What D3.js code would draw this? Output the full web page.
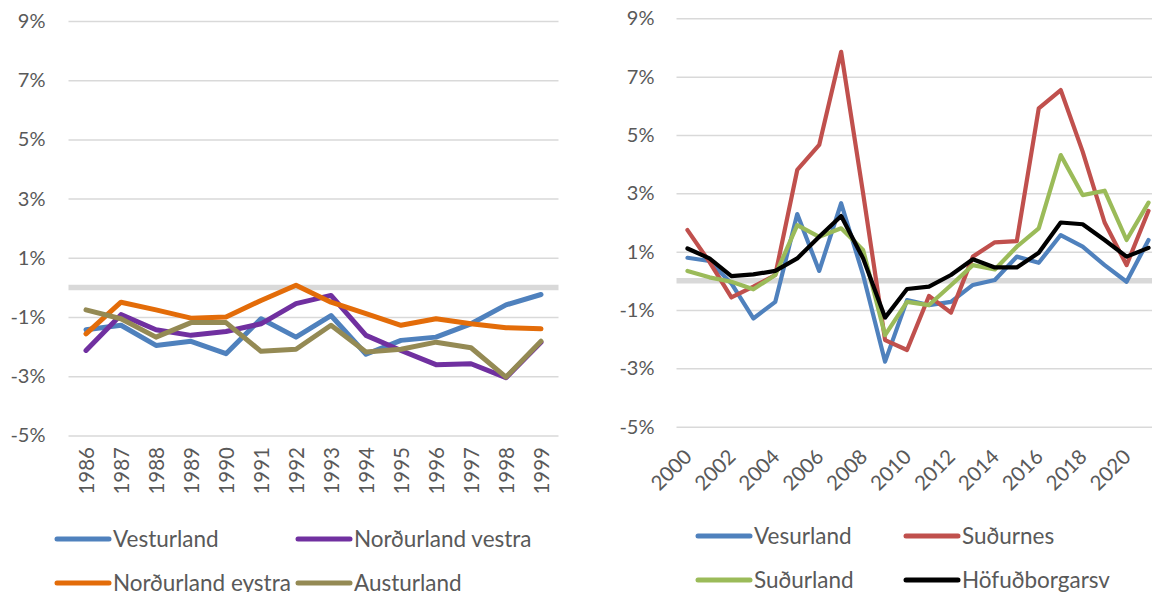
<!DOCTYPE html>
<html>
<head>
<meta charset="utf-8">
<script src="https://cdn.jsdelivr.net/npm/d3@7/dist/d3.min.js"></script>
<style>
  body { margin: 0; background: #fff; }
  svg text { font-family: Lato, "Open Sans", sans-serif; fill: #595959; }
</style>
</head>
<body>
<svg id="chart" width="1152" height="592"></svg>
<script>
// left panel: 1986-1999
const yearsLeft = ["1986","1987","1988","1989","1990","1991","1992","1993","1994","1995","1996","1997","1998","1999"];
const vesturland       = [-1.43,-1.28,-1.96,-1.82,-2.24,-1.06,-1.68,-0.95,-2.26,-1.79,-1.68,-1.23,-0.59,-0.24];
const nordurlandVestra = [-2.13,-0.92,-1.43,-1.62,-1.49,-1.23,-0.55,-0.27,-1.62,-2.13,-2.61,-2.58,-3.05,-1.85];
const nordurlandEystra = [-1.57,-0.50,-0.76,-1.04,-1.00,-0.44,0.07,-0.50,-0.89,-1.28,-1.06,-1.23,-1.36,-1.40];
const austurland       = [-0.76,-1.06,-1.68,-1.19,-1.19,-2.16,-2.09,-1.28,-2.18,-2.09,-1.85,-2.04,-3.03,-1.82];

// right panel: 2000-2021
const yearsRight = ["2000","2001","2002","2003","2004","2005","2006","2007","2008","2009","2010",
                    "2011","2012","2013","2014","2015","2016","2017","2018","2019","2020","2021"];
const rightTickLabels = ["2000","2002","2004","2006","2008","2010","2012","2014","2016","2018","2020"];
const vesurland     = [0.79,0.68,-0.09,-1.29,-0.72,2.29,0.34,2.66,0.20,-2.77,-0.66,-0.83,-0.72,-0.14,0.03,0.83,0.62,1.57,1.17,0.54,-0.03,1.40];
const sudurnes      = [1.74,0.65,-0.57,-0.20,0.20,3.80,4.66,7.85,3.00,-2.03,-2.37,-0.52,-1.09,0.83,1.32,1.36,5.91,6.54,4.43,2.00,0.54,2.40];
const sudurland     = [0.34,0.12,-0.03,-0.29,0.20,1.91,1.51,1.80,1.06,-1.86,-0.72,-0.83,-0.15,0.54,0.39,1.17,1.80,4.31,2.94,3.09,1.40,2.68];
const hofudborgarsv = [1.11,0.77,0.16,0.22,0.34,0.77,1.51,2.22,0.77,-1.26,-0.28,-0.20,0.20,0.74,0.46,0.46,0.96,2.00,1.94,1.40,0.83,1.13];

const yTicks = [-5,-3,-1,1,3,5,7,9];

const svg = d3.select("#chart");

function drawPanel(cfg) {
  const x = d3.scalePoint().domain(cfg.years).range([cfg.x0, cfg.x1]).padding(0.5);
  const y = d3.scaleLinear().domain([-5, 9]).range([cfg.yBottom, cfg.yTop]);
  const g = svg.append("g");

  // gridlines + y labels
  g.append("g")
    .attr("transform", `translate(${cfg.x0},0)`)
    .call(d3.axisLeft(y).tickValues(yTicks).tickSize(-(cfg.x1 - cfg.x0))
      .tickPadding(cfg.yPad).tickFormat(d => d + "%"))
    .call(a => a.select(".domain").remove())
    .call(a => a.selectAll("line").attr("stroke", "#d9d9d9").attr("stroke-width", 1.5))
    .call(a => a.selectAll("text").attr("font-size", 20));

  // zero line
  g.append("line")
    .attr("x1", cfg.x0).attr("x2", cfg.x1)
    .attr("y1", y(0)).attr("y2", y(0))
    .attr("stroke", "#d9d9d9").attr("stroke-width", 5.5);

  // x labels
  g.append("g")
    .attr("transform", `translate(0,${cfg.xLabelY})`)
    .call(d3.axisBottom(x).tickValues(cfg.tickLabels).tickSize(0))
    .call(a => a.select(".domain").remove())
    .call(a => a.selectAll("text")
      .attr("font-size", 20.5)
      .attr("x", 0).attr("y", 0).attr("dy", "0.35em")
      .attr("text-anchor", "end")
      .attr("transform", `rotate(${cfg.rot})`));

  // series
  const line = d3.line().x((d, i) => x(cfg.years[i])).y(d => y(d));
  cfg.series.forEach(s => {
    g.append("path")
      .datum(s.values)
      .attr("d", line)
      .attr("fill", "none")
      .attr("stroke", s.color)
      .attr("stroke-width", cfg.lineWidth)
      .attr("stroke-linejoin", "round")
      .attr("stroke-linecap", "round");
  });

  // legend
  const lg = svg.append("g");
  cfg.series.forEach(s => {
    lg.append("line")
      .attr("x1", s.lx).attr("x2", s.lx + cfg.swatch)
      .attr("y1", s.ly).attr("y2", s.ly)
      .attr("stroke", s.color).attr("stroke-width", 5)
      .attr("stroke-linecap", "round");
    lg.append("text")
      .attr("x", s.lx + cfg.swatch + 4).attr("y", s.ly)
      .attr("dy", "0.35em")
      .attr("font-size", 22.5)
      .text(s.name);
  });
}

drawPanel({
  years: yearsLeft, tickLabels: yearsLeft,
  x0: 68.5, x1: 558.5, yTop: 21, yBottom: 435.4, yPad: 23,
  xLabelY: 447, rot: -90, lineWidth: 5, swatch: 52,
  series: [
    {name: "Vesturland", values: vesturland, color: "#4f81bd", lx: 57, ly: 539},
    {name: "Norðurland vestra", values: nordurlandVestra, color: "#7030a0", lx: 298, ly: 539},
    {name: "Norðurland eystra", values: nordurlandEystra, color: "#e36c09", lx: 57, ly: 583},
    {name: "Austurland", values: austurland, color: "#948a54", lx: 298, ly: 583}
  ]
});

drawPanel({
  years: yearsRight, tickLabels: rightTickLabels,
  x0: 676.5, x1: 1159.5, yTop: 18.3, yBottom: 426.7, yPad: 22,
  xLabelY: 453, rot: -45, lineWidth: 4.2, swatch: 52,
  series: [
    {name: "Vesurland", values: vesurland, color: "#4f81bd", lx: 698, ly: 536},
    {name: "Suðurnes", values: sudurnes, color: "#c0504d", lx: 906, ly: 536},
    {name: "Suðurland", values: sudurland, color: "#9bbb59", lx: 698, ly: 580},
    {name: "Höfuðborgarsv", values: hofudborgarsv, color: "#000000", lx: 906, ly: 580}
  ]
});
</script>
</body>
</html>
